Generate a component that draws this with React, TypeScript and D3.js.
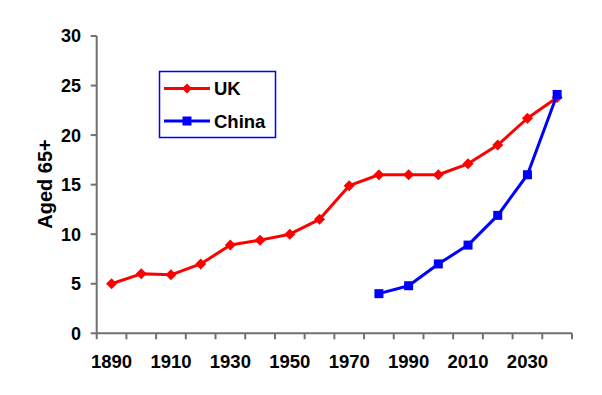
import React from "react";
import * as d3 from "d3";

const categories = [1890, 1900, 1910, 1920, 1930, 1940, 1950, 1960, 1970, 1980, 1990, 2000, 2010, 2020, 2030, 2040];
const ukValues: (number | null)[] = [5, 6, 5.9, 7, 8.9, 9.4, 10, 11.5, 14.9, 16, 16, 16, 17.1, 19, 21.7, 23.8];
const chinaValues: (number | null)[] = [null, null, null, null, null, null, null, null, null, 4, 4.8, 7, 8.9, 11.9, 16, 24.1];
const yTicks = [0, 5, 10, 15, 20, 25, 30];
const xLabels = [1890, 1910, 1930, 1950, 1970, 1990, 2010, 2030];

const W = 602, H = 395;
const left = 96.7, right = 572, top = 36, bottom = 333.3;
const FONT = "'Liberation Sans', Arial, sans-serif";

export default function App() {
  const x = d3.scaleBand<number>().domain(categories).range([left, right]);
  const y = d3.scaleLinear().domain([0, 30]).range([bottom, top]);
  const cx = (c: number) => (x(c) as number) + x.bandwidth() / 2;
  const line = d3.line<[number, number | null]>()
    .defined(d => d[1] !== null)
    .x(d => cx(d[0]))
    .y(d => y(d[1] as number));
  const uk = categories.map((c, i) => [c, ukValues[i]] as [number, number | null]);
  const cn = categories.map((c, i) => [c, chinaValues[i]] as [number, number | null]);
  const axisColor = "#707070";
  const diamondPath = (s: number) => `M0,${-s}L${s},0L0,${s}L${-s},0Z`;

  return (
    <svg width={W} height={H} style={{ position: "absolute", left: 0, top: 0, background: "#fff" }}>
      {/* y axis */}
      <line x1={left} x2={left} y1={top} y2={bottom} stroke={axisColor} strokeWidth={2} />
      {yTicks.map(t => (
        <g key={t}>
          <line x1={left - 6} x2={left} y1={y(t)} y2={y(t)} stroke={axisColor} strokeWidth={2} />
          <text x={81} y={y(t)} dy="0.36em" textAnchor="end" fontFamily={FONT} fontWeight="bold" fontSize={18} fill="#000">{t}</text>
        </g>
      ))}
      {/* x axis */}
      <line x1={left} x2={right} y1={bottom} y2={bottom} stroke={axisColor} strokeWidth={2} />
      {categories.map(c => (
        <line key={c} x1={x(c) as number} x2={x(c) as number} y1={bottom} y2={bottom + 6} stroke={axisColor} strokeWidth={2} />
      ))}
      <line x1={right} x2={right} y1={bottom} y2={bottom + 6} stroke={axisColor} strokeWidth={2} />
      {xLabels.map(c => (
        <text key={c} x={cx(c)} y={367.5} textAnchor="middle" fontFamily={FONT} fontWeight="bold" fontSize={18.5} fill="#000">{c}</text>
      ))}
      <text transform={`translate(52,184) rotate(-90)`} textAnchor="middle" fontFamily={FONT} fontWeight="bold" fontSize={20} fill="#000">Aged 65+</text>

      {/* UK series */}
      <path d={line(uk) || ""} fill="none" stroke="#ff0000" strokeWidth={3} strokeLinejoin="round" />
      {uk.filter(d => d[1] !== null).map(d => (
        <path key={d[0]} d={diamondPath(5.5)} transform={`translate(${cx(d[0])},${y(d[1] as number)})`} fill="#ff0000" />
      ))}
      {/* China series */}
      <path d={line(cn) || ""} fill="none" stroke="#0000ff" strokeWidth={3} strokeLinejoin="round" />
      {cn.filter(d => d[1] !== null).map(d => (
        <rect key={d[0]} x={cx(d[0]) - 4.5} y={y(d[1] as number) - 4.5} width={9} height={9} fill="#0000ff" />
      ))}

      {/* legend */}
      <rect x={159.5} y={71.5} width={116} height={66} fill="#fff" stroke="#0000ff" strokeWidth={1.5} />
      <line x1={164} x2={210} y1={88.5} y2={88.5} stroke="#ff0000" strokeWidth={3} />
      <path d={diamondPath(5)} transform="translate(187,88.5)" fill="#ff0000" />
      <text x={214} y={95} fontFamily={FONT} fontWeight="bold" fontSize={18.5} fill="#000">UK</text>
      <line x1={164} x2={210} y1={121} y2={121} stroke="#0000ff" strokeWidth={3} />
      <rect x={182.5} y={116.5} width={9} height={9} fill="#0000ff" />
      <text x={214} y={128} fontFamily={FONT} fontWeight="bold" fontSize={18.5} fill="#000">China</text>
    </svg>
  );
}
